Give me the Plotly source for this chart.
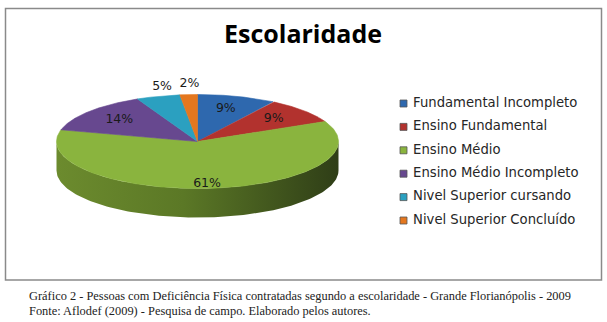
import numpy as np
import plotly.graph_objects as go

# ---- data ----
categories = ["Fundamental Incompleto", "Ensino Fundamental", "Ensino Médio",
              "Ensino Médio Incompleto", "Nivel Superior cursando", "Nivel Superior Concluído"]
percentages = [9, 9, 61, 14, 5, 2]
colors = ["#2e68ae", "#b2322e", "#8ab43e", "#67488f", "#2ba0c0", "#e4771f"]
title_text = "Escolaridade"
caption_lines = ["Gráfico 2 - Pessoas com Deficiência Física contratadas segundo a escolaridade - Grande Florianópolis - 2009",
                 "Fonte: Aflodef (2009) - Pesquisa de campo. Elaborado pelos autores."]

# ---- geometry (pixel space layout) ----
W, H = 607, 322
cx, cy, rx, ry, depth = 197.5, 141.5, 141.0, 47.0, 29.0

def pt(theta_deg, r=1.0, dy=0.0):
    t = np.radians(theta_deg)
    return cx + rx * r * np.sin(t), cy - ry * r * np.cos(t) + dy

vals = np.array(percentages, dtype=float)
frac = vals / vals.sum()
ends = np.cumsum(frac) * 360.0
starts = ends - frac * 360.0

fig = go.Figure()

# side walls (front half only: 90..270 deg)
for i in range(len(categories)):
    a0, a1 = max(starts[i], 90.0), min(ends[i], 270.0)
    if a1 <= a0:
        continue
    th = np.linspace(a0, a1, 120)
    xt, yt = pt(th)
    xb, yb = pt(th[::-1], dy=depth)
    xs = np.concatenate([xt, xb, xt[:1]])
    ys = np.concatenate([yt, yb, yt[:1]])
    fig.add_trace(go.Scatter(x=xs, y=ys, mode="lines", fill="toself",
                             line=dict(width=0, color=colors[i]),
                             fillgradient=dict(type="horizontal",
                                               colorscale=[[0, "#6c8b2e"], [0.45, "#5b7826"], [1, "#2f3e17"]]),
                             hoverinfo="skip", showlegend=False))

# top face wedges
for i in range(len(categories)):
    th = np.linspace(starts[i], ends[i], 200)
    xa, ya = pt(th)
    xs = np.concatenate([[cx], xa, [cx]])
    ys = np.concatenate([[cy], ya, [cy]])
    fig.add_trace(go.Scatter(x=xs, y=ys, mode="lines", fill="toself",
                             fillcolor=colors[i], line=dict(width=0.6, color=colors[i]),
                             hoverinfo="text", text=categories[i], showlegend=False))

# data labels
lx, ly, lt = [], [], []
for i in range(len(categories)):
    mid = (starts[i] + ends[i]) / 2
    if percentages[i] < 6:
        t = np.radians(mid)
        x = cx + rx * 0.9 * np.sin(t)
        y = cy - ry * 1.22 * np.cos(t)
    else:
        x, y = pt(mid, r=0.72)
        if 90 < mid < 270:
            y += depth * 0.3
    lx.append(x); ly.append(y); lt.append(f"{percentages[i]}%")
fig.add_trace(go.Scatter(x=lx, y=ly, mode="text", text=lt,
                         textfont=dict(family="DejaVu Sans", size=12.5, color="#1a1a1a"),
                         hoverinfo="skip", showlegend=False))

# legend (manual, Excel style)
leg_x = 403.5
leg_y = [103.5 + 23.4 * i for i in range(len(categories))]
fig.add_trace(go.Scatter(x=[leg_x] * len(categories), y=leg_y, mode="markers+text",
                         marker=dict(symbol="square", size=7, color=colors,
                                     line=dict(width=0.8, color="#555555")),
                         text=[" " + c for c in categories], textposition="middle right",
                         textfont=dict(family="DejaVu Sans", size=13.2, color="#262626"),
                         hoverinfo="skip", showlegend=False))

# frame
fig.add_shape(type="rect", xref="x", yref="y", x0=5.5, y0=8.5, x1=601.5, y1=280,
              line=dict(color="#8a8a8a", width=1.5), fillcolor="rgba(0,0,0,0)", layer="below")

fig.add_annotation(x=303, y=33, xref="x", yref="y", text="<b>" + title_text + "</b>",
                   showarrow=False, font=dict(family="Open Sans", size=25, color="#000000"))
for k, line in enumerate(caption_lines):
    fig.add_annotation(x=27, y=296 + 14.5 * k, xref="x", yref="y", text=line, xanchor="left",
                       showarrow=False, font=dict(family="Liberation Serif", size=12.4, color="#222222"))

fig.update_layout(width=W, height=H, margin=dict(l=0, r=0, t=0, b=0),
                  paper_bgcolor="white", plot_bgcolor="white", showlegend=False,
                  xaxis=dict(range=[0, W], visible=False, fixedrange=True),
                  yaxis=dict(range=[H, 0], visible=False, fixedrange=True))
fig.write_html("out.html", config={"displayModeBar": False},
               post_script="document.body.style.margin='0';document.body.style.overflow='hidden';")
